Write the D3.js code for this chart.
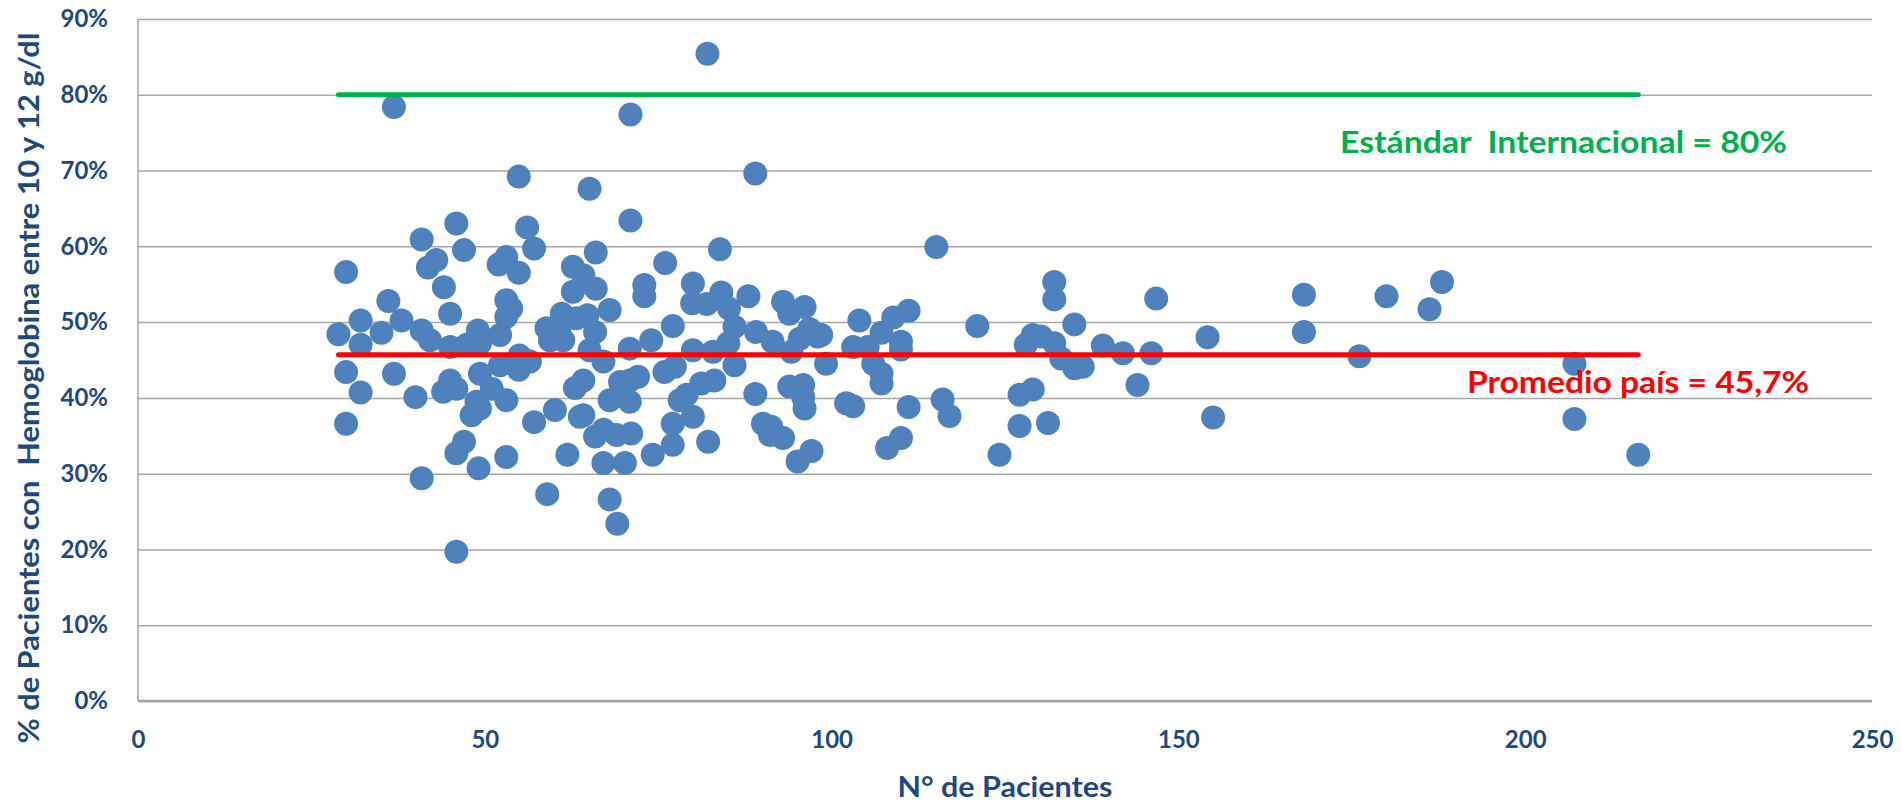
<!DOCTYPE html>
<html>
<head>
<meta charset="utf-8">
<script src="https://cdn.jsdelivr.net/npm/d3@7"></script>
<style>
  html, body { margin: 0; padding: 0; background: #ffffff; }
  svg { display: block; }
  text { font-family: Lato, "Open Sans", sans-serif; font-weight: bold; }
</style>
</head>
<body>
<script>
// ---------------- DATA ----------------
const patients = [
  36.9,54.9,45.9,40.9,56.1,47.0,57.1,43.0,41.8,53.1,52.0,54.9,30.0,62.7,62.7,44.1,36.1,53.1,53.8,45.0,32.1,38.0,61.1,53.1,
  28.9,32.1,35.1,40.9,42.1,45.0,47.4,49.0,49.3,52.2,58.9,60.8,59.4,61.3,55.0,56.5,54.9,30.0,36.9,52.2,49.3,45.0,44.0,45.9,51.0,53.1,
  48.8,49.3,48.1,32.1,40.0,30.0,63.0,60.1,57.1,63.7,47.0,45.9,53.1,49.1,61.9,40.9,59.0,45.9,
  82.1,71.0,89.0,65.1,71.0,83.9,66.0,76.0,64.2,73.0,73.0,80.0,84.1,79.9,82.0,85.2,88.0,93.0,96.1,93.9,
  66.0,68.0,64.8,63.2,77.1,86.0,89.1,96.8,98.5,91.5,95.4,94.2,99.2,65.9,65.1,67.1,70.9,74.0,80.0,82.9,
  85.1,86.0,75.9,77.4,72.1,69.5,70.9,64.2,68.0,70.9,78.1,79.1,81.2,83.1,64.2,80.0,77.1,67.1,65.9,69.0,
  71.1,77.1,82.2,67.1,70.2,74.2,68.0,69.1,89.0,93.9,95.9,95.9,96.1,90.1,91.3,91.1,93.0,95.1,97.1,98.0,
  115.1,132.1,132.1,146.8,104.0,111.1,108.9,107.2,121.0,135.0,110.0,110.0,103.1,105.2,106.0,107.2,107.2,128.0,129.0,130.2,
  132.1,133.1,135.0,136.2,139.1,142.0,146.1,144.1,102.1,103.1,111.1,116.0,117.0,127.1,129.0,127.1,131.2,110.0,108.0,124.2,
  154.2,155.0,168.1,168.1,176.1,180.0,186.2,188.0,207.1,207.1,216.3
];
const percentages = [
  78.4,69.2,63.0,60.9,62.5,59.5,59.7,58.2,57.2,58.6,57.6,56.5,56.6,57.3,54.0,54.6,52.8,52.9,51.8,51.1,50.2,50.2,51.1,50.7,
  48.4,47.0,48.6,48.9,47.6,46.7,47.0,48.9,47.2,48.3,49.2,49.4,47.6,47.6,45.6,44.8,43.7,43.4,43.2,44.3,43.2,42.3,40.8,41.2,41.2,39.7,
  39.5,38.6,37.7,40.7,40.1,36.6,41.3,38.4,36.8,37.5,34.2,32.7,32.2,30.7,32.5,29.4,27.3,19.7,
  85.4,77.4,69.6,67.6,63.4,59.6,59.2,57.8,56.2,54.9,53.4,55.1,53.9,52.5,52.4,51.8,53.4,52.7,52.0,51.1,
  54.4,51.6,50.9,50.5,49.5,49.4,48.7,49.1,48.3,47.4,47.8,46.1,44.5,48.7,46.3,44.8,46.5,47.6,46.3,46.1,
  47.2,44.3,43.4,44.1,42.8,42.1,42.3,42.3,39.7,39.5,39.7,40.4,41.9,42.3,37.7,37.5,36.6,35.8,34.9,35.1,
  35.3,33.8,34.2,31.4,31.4,32.5,26.6,23.4,40.5,41.5,41.7,40.1,38.6,36.6,36.2,35.1,34.7,31.6,33.0,48.1,
  59.9,55.3,53.0,53.1,50.2,51.5,50.6,48.6,49.5,49.7,47.4,46.4,46.7,46.7,44.5,43.2,41.9,47.0,48.3,48.1,
  47.2,45.2,43.9,44.1,46.9,45.9,45.9,41.7,39.3,38.9,38.8,39.8,37.6,40.4,41.1,36.3,36.7,34.7,33.4,32.5,
  48.0,37.4,53.6,48.7,45.5,53.4,51.7,55.3,44.5,37.2,32.5
];
const xTickValues = [0, 50, 100, 150, 200, 250];
const yTickValues = [0, 10, 20, 30, 40, 50, 60, 70, 80, 90];
const standardValue = 80;
const countryAverage = 45.7;
const standardLabel = "Estándar  Internacional = 80%";
const averageLabel = "Promedio país = 45,7%";
const xTitle = "N° de Pacientes";
const yTitle = "% de Pacientes con  Hemoglobina entre 10 y 12 g/dl";

// ---------------- LAYOUT ----------------
const W = 1901, H = 804;
const plotLeft = 138, plotRight = 1872, plotTop = 19, plotBottom = 701;
const textColor = "#1F497D";
const gridColor = "#A6A6A6";

const svg = d3.select("body").append("svg").attr("width", W).attr("height", H);

const x = d3.scaleLinear().domain([0, 250]).range([plotLeft, plotRight]);
const y = d3.scaleLinear().domain([0, 90]).range([plotBottom, plotTop]);

// Y axis with gridlines
svg.append("g")
  .attr("transform", `translate(${plotLeft},0)`)
  .call(d3.axisLeft(y).tickValues(yTickValues).tickSize(-(plotRight - plotLeft)).tickPadding(30).tickFormat(d => d + "%"))
  .call(g => g.select(".domain").remove())
  .call(g => g.selectAll(".tick line").attr("stroke", gridColor).attr("stroke-width", 1.5))
  .call(g => g.selectAll(".tick text").attr("fill", textColor).style("font-size", "24px").style("font-family", "Lato, sans-serif").style("font-weight", "bold"));

// X axis labels
svg.append("g")
  .attr("transform", `translate(0,${plotBottom})`)
  .call(d3.axisBottom(x).tickValues(xTickValues).tickSize(0).tickFormat(d3.format("d")))
  .call(g => g.select(".domain").remove())
  .call(g => g.selectAll(".tick text").attr("dy", null).attr("y", 47).attr("fill", textColor)
    .style("font-size", "24px").style("font-family", "Lato, sans-serif").style("font-weight", "bold"));

// axis lines
svg.append("line").attr("x1", plotLeft).attr("x2", plotLeft).attr("y1", plotTop).attr("y2", plotBottom)
  .attr("stroke", gridColor).attr("stroke-width", 1.5);
svg.append("line").attr("x1", plotLeft).attr("x2", plotRight).attr("y1", plotBottom).attr("y2", plotBottom)
  .attr("stroke", gridColor).attr("stroke-width", 2.5);

// Points
const data = patients.map((p, i) => ({ p, v: percentages[i] }));
svg.append("g").selectAll("circle").data(data).join("circle")
  .attr("cx", d => x(d.p)).attr("cy", d => y(d.v)).attr("r", 12)
  .attr("fill", "#4F81BD");

// Reference lines spanning the data range
const ext = d3.extent(patients);
const line = d3.line().x(d => x(d[0])).y(d => y(d[1]));
svg.append("path").attr("d", line([[ext[0], standardValue], [ext[1], standardValue]]))
  .attr("stroke", "#00B050").attr("stroke-width", 5).attr("stroke-linecap", "round").attr("fill", "none");
svg.append("path").attr("d", line([[ext[0], countryAverage], [ext[1], countryAverage]]))
  .attr("stroke", "#FF0000").attr("stroke-width", 5).attr("stroke-linecap", "round").attr("fill", "none");

// Reference labels
svg.append("text").attr("x", 1340).attr("y", 153).attr("fill", "#00B050")
  .style("font-size", "30px").attr("textLength", 447).attr("lengthAdjust", "spacingAndGlyphs")
  .style("white-space", "pre").text(standardLabel);
svg.append("text").attr("x", 1467).attr("y", 393).attr("fill", "#FF0000")
  .style("font-size", "30px").attr("textLength", 342).attr("lengthAdjust", "spacingAndGlyphs")
  .text(averageLabel);

// Axis titles
svg.append("text").attr("x", 1005).attr("y", 797).attr("text-anchor", "middle").attr("fill", textColor)
  .style("font-size", "29px").attr("textLength", 215).attr("lengthAdjust", "spacingAndGlyphs").text(xTitle);
svg.append("text").attr("transform", "translate(39,388) rotate(-90)").attr("text-anchor", "middle")
  .attr("fill", textColor).style("font-size", "28px").style("white-space", "pre")
  .attr("textLength", 711).attr("lengthAdjust", "spacingAndGlyphs").text(yTitle);
</script>
</body>
</html>
